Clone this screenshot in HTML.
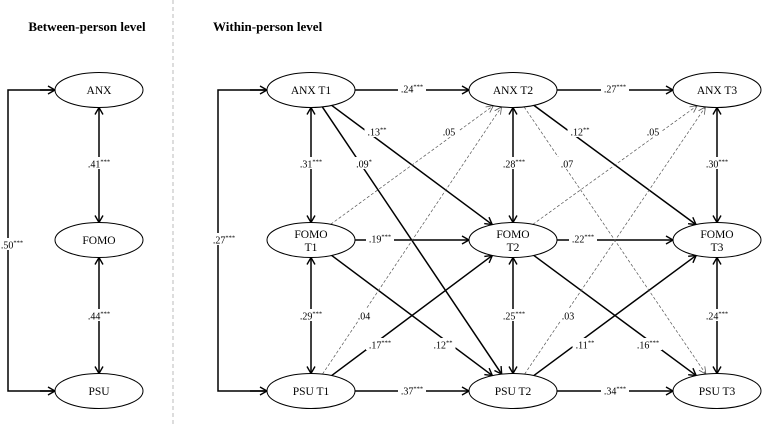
<!DOCTYPE html>
<html><head><meta charset="utf-8"><style>
body{margin:0;background:#fff}
svg{display:block;font-family:"Liberation Serif",serif}
</style></head><body>
<svg id="s" width="762" height="427" viewBox="0 0 762 427" xmlns="http://www.w3.org/2000/svg">
<defs>
<marker id="a" markerWidth="10" markerHeight="10" refX="8" refY="5" orient="auto" markerUnits="userSpaceOnUse"><path d="M1,1 L8,5 L1,9" fill="none" stroke="#000" stroke-width="1.4"/></marker>
<marker id="b" markerWidth="10" markerHeight="10" refX="2" refY="5" orient="auto" markerUnits="userSpaceOnUse"><path d="M9,1 L2,5 L9,9" fill="none" stroke="#000" stroke-width="1.4"/></marker>
<marker id="d" markerWidth="10" markerHeight="10" refX="8" refY="5" orient="auto" markerUnits="userSpaceOnUse"><path d="M1,1.5 L8,5 L1,8.5" fill="none" stroke="#555" stroke-width="0.8"/></marker>
</defs>
<line x1="173" y1="0" x2="173" y2="427" stroke="#bbb" stroke-width="1" stroke-dasharray="4,3"/>
<text x="87" y="31" font-size="13" font-weight="bold" text-anchor="middle">Between-person level</text>
<text x="213" y="31" font-size="13" font-weight="bold">Within-person level</text>
<g id="edges"></g>
<g id="nodes"></g>
<g id="labels" font-size="10"></g>
</svg>
<script>
var NS="http://www.w3.org/2000/svg";
var RX=44,RY=17.5;
var N={
A:[99,90],F:[99,240],P:[99,391],
A1:[311,90],A2:[513,90],A3:[717,90],
F1:[311,240],F2:[513,240],F3:[717,240],
P1:[311,391],P2:[513,391],P3:[717,391]};
var names={A:"ANX",F:"FOMO",P:"PSU",A1:"ANX T1",A2:"ANX T2",A3:"ANX T3",F1:"FOMO|T1",F2:"FOMO|T2",F3:"FOMO|T3",P1:"PSU T1",P2:"PSU T2",P3:"PSU T3"};
function el(t,a,p){var e=document.createElementNS(NS,t);for(var k in a)e.setAttribute(k,a[k]);(p||document.getElementById("edges")).appendChild(e);return e;}
function clip(c,dx,dy){var t=1/Math.sqrt((dx*dx)/(RX*RX)+(dy*dy)/(RY*RY));return [c[0]+dx*t,c[1]+dy*t];}
function edge(s,t,type,so,to){so=so||[0,0];to=to||[0,0];
 var a=N[s],b=N[t];var sa=[a[0]+so[0],a[1]+so[1]],tb=[b[0]+to[0],b[1]+to[1]];
 var dx=tb[0]-sa[0],dy=tb[1]-sa[1];
 var p1=clip(a,dx,dy),p2=clip(b,-dx,-dy);
 var at={x1:p1[0],y1:p1[1],x2:p2[0],y2:p2[1]};
 if(type=="d"){at.stroke="#555";at["stroke-width"]=0.7;at["stroke-dasharray"]="3,2";at["marker-end"]="url(#d)";}
 else{at.stroke="#000";at["stroke-width"]=1.5;at["marker-end"]="url(#a)";if(type=="bi")at["marker-start"]="url(#b)";}
 el("line",at);}
// horizontals
edge("A1","A2");edge("A2","A3");edge("F1","F2");edge("F2","F3");edge("P1","P2");edge("P2","P3");
// verticals
["A","F","P"].forEach(function(){});
edge("A","F","bi");edge("F","P","bi");
edge("A1","F1","bi");edge("F1","P1","bi");edge("A2","F2","bi");edge("F2","P2","bi");edge("A3","F3","bi");edge("F3","P3","bi");
// solid diagonals
edge("A1","F2","s",[0,0],[0,0]);
edge("A1","P2","s",[-8,0],[-8,0]);
edge("F1","P2","s");
edge("P1","F2","s");
edge("A2","F3","s");
edge("F2","P3","s");
edge("P2","F3","s");
// dashed
edge("F1","A2","d",[0,0],[-14,0]);
edge("P1","A2","d",[-8,0],[-5,0]);
edge("A2","P3","d",[6,0],[0,0]);
edge("F2","A3","d",[0,0],[-14,0]);
edge("P2","A3","d",[-8,0],[-5,0]);
// brackets
el("path",{d:"M55,90 H8 V391 H55",fill:"none",stroke:"#000","stroke-width":1.5});
el("line",{x1:40,y1:90,x2:55,y2:90,stroke:"#000","stroke-width":1.5,"marker-end":"url(#a)"});
el("line",{x1:40,y1:391,x2:55,y2:391,stroke:"#000","stroke-width":1.5,"marker-end":"url(#a)"});
el("path",{d:"M267,90 H218 V391 H267",fill:"none",stroke:"#000","stroke-width":1.5});
el("line",{x1:250,y1:90,x2:267,y2:90,stroke:"#000","stroke-width":1.5,"marker-end":"url(#a)"});
el("line",{x1:250,y1:391,x2:267,y2:391,stroke:"#000","stroke-width":1.5,"marker-end":"url(#a)"});
// nodes
var ng=document.getElementById("nodes");
for(var k in N){var c=N[k];el("ellipse",{cx:c[0],cy:c[1],rx:RX,ry:RY,fill:"#fff",stroke:"#000","stroke-width":1},ng);
 var lines=names[k].split("|");
 lines.forEach(function(L,i){var t=el("text",{x:c[0],y:c[1]+4+(lines.length==2?(i==0?-6:7):0),"font-size":"11.5","text-anchor":"middle"},ng);t.textContent=L;});}
// labels
var lg=document.getElementById("labels");
function lab(x,y,v,st,bg){var w=v.length*5+(st.length*3)+4;
 if(bg!==false)el("rect",{x:x-w/2,y:y-7,width:w,height:12,fill:"#fff"},lg);
 var t=el("text",{x:x,y:y+3.5,"text-anchor":"middle"},lg);
 var t1=document.createElementNS(NS,"tspan");t1.textContent=v;t.appendChild(t1);
 if(st){var t2=document.createElementNS(NS,"tspan");t2.setAttribute("font-size","6.5");t2.setAttribute("dy","-4");t2.textContent=st;t.appendChild(t2);}}
lab(99,164,".41","***");lab(99,316,".44","***");lab(12,245,".50","***");lab(224,240,".27","***");
lab(412,89,".24","***");lab(615,89,".27","***");
lab(380,239,".19","***");lab(583,239,".22","***");
lab(412,391,".37","***");lab(615,391,".34","***");
lab(311,164,".31","***");lab(311,316,".29","***");lab(514,164,".28","***");lab(514,316,".25","***");lab(717,164,".30","***");lab(717,316,".24","***");
lab(377,132,".13","**");lab(364,164,".09","*");lab(443,345,".12","**");lab(380,345,".17","***");
lab(580,132,".12","**");lab(648,345,".16","***");lab(585,345,".11","**");
lab(449,132,".05","");lab(364,316,".04","");lab(567,164,".07","");lab(653,132,".05","");lab(568,316,".03","");
</script>
</body></html>
